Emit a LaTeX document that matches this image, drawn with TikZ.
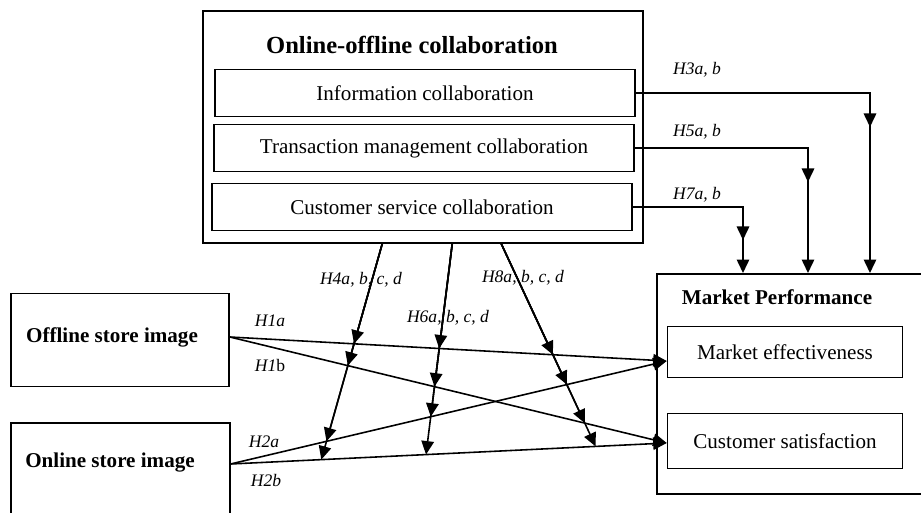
\documentclass[tikz,border=0pt]{standalone}
\usepackage{fontspec}
\setmainfont{Liberation Serif}
\usetikzlibrary{arrows.meta,calc}

\begin{document}
\begin{tikzpicture}[x=0.02cm,y=-0.02cm,line width=0.9pt,
    hyp/.style={-{Triangle[length=0.27cm,width=0.25cm]}},
    box/.style={rectangle,draw,inner sep=0pt,font=\fontsize{12}{14}\selectfont},
    sub node/.style={box,minimum width=8.4cm,minimum height=0.94cm},
    head/.style={inner sep=0pt,font=\fontsize{12}{14}\selectfont\bfseries},
    lab/.style={inner sep=0pt,font=\fontsize{10}{12}\selectfont\itshape}]

    \path[use as bounding box] (0,0) rectangle (921,513);
    \clip (0,0) rectangle (921,513);

    % collaboration block
    \node[box,minimum width=8.8cm,minimum height=4.64cm] (collab) at (423,127) {};
    \node[head,font=\fontsize{14}{16}\selectfont\bfseries] (collabtitle) at (412,45) {Online-offline collaboration};
    \node[sub node] (info) at (425,93) {Information collaboration};
    \node[sub node] (trans) at (424,148) {Transaction management collaboration};
    \node[sub node] (service) at (422,207) {Customer service collaboration};

    % store images
    \node[box,minimum width=4.36cm,minimum height=1.86cm] (offline) at (120,340) {};
    \node[head] (offlinetext) at (112,337) {Offline store image};
    \node[box,minimum width=4.38cm,minimum height=2.4cm,anchor=north west] (online) at (10,422) {};
    \node[head] (onlinetext) at (110,463) {Online store image};

    % market performance
    \node[box,minimum width=5.6cm,minimum height=4.4cm,anchor=north west] (perf) at (656,273) {};
    \node[head] (perftitle) at (777,297) {Market Performance};
    \node[box,minimum width=4.7cm,minimum height=1.02cm] (eff) at (785,352) {Market effectiveness};
    \node[box,minimum width=4.7cm,minimum height=1.1cm] (sat) at (785,441) {Customer satisfaction};

    % ends of the direct paths
    \coordinate (offR) at ($(offline.east)+(0,-3)$);
    \coordinate (onR) at ($(online.north east)+(0,42)$);
    \coordinate (effL) at ($(eff.west)+(0,9)$);
    \coordinate (satL) at ($(sat.west)+(0,2)$);

    \draw[hyp] (offR) -- (effL);
    \draw[hyp] (offR) -- (satL);
    \draw[hyp] (onR) -- (effL);
    \draw[hyp] (onR) -- (satL);

    \node[lab] (h1a) at (270,321) {H1a};
    \node[lab] (h1b) at (270,365) {H1\upshape b};
    \node[lab] (h2a) at (264,442) {H2a};
    \node[lab] (h2b) at (266,480) {H2b};

    % moderating paths, one arrow where each direct path is crossed
    \coordinate (top4) at ($(collab.south west)+(180,0)$);
    \coordinate (top6) at ($(collab.south west)+(250,0)$);
    \coordinate (top8) at ($(collab.south west)+(299,0)$);
    \coordinate (dir4) at ($(top4)+(-61,216)$);
    \coordinate (dir6) at ($(top6)+(-26,209)$);
    \coordinate (dir8) at ($(top8)+(95,204)$);

    \foreach \m in {4,6,8}
        \foreach \a/\b in {offR/effL,offR/satL,onR/effL,onR/satL}
            \draw[hyp] (top\m) -- (intersection cs: first line={(top\m)--(dir\m)}, second line={(\a)--(\b)});

    \node[lab] (h4) at (361,280) {H4a, b, c, d};
    \node[lab] (h6) at (448,318) {H6a, b, c, d};
    \node[lab] (h8) at (523,278) {H8a, b, c, d};

    % direct paths to market performance
    \coordinate (in3) at ($(perf.north west)+(214,0)$);
    \coordinate (in5) at ($(perf.north west)+(152,0)$);
    \coordinate (in7) at ($(perf.north west)+(87,0)$);

    \draw[hyp] (info.east) -| (in3);
    \draw[hyp] (info.east) -| ($(in3)+(0,-146)$);
    \draw[hyp] (trans.east) -| (in5);
    \draw[hyp] (trans.east) -| ($(in5)+(0,-91)$);
    \draw[hyp] (service.east) -| (in7);
    \draw[hyp] (service.east) -| ($(in7)+(0,-33)$);

    \node[lab] (h3) at (697,70) {H3a, b};
    \node[lab] (h5) at (697,132) {H5a, b};
    \node[lab] (h7) at (697,195) {H7a, b};
\end{tikzpicture}
\end{document}
